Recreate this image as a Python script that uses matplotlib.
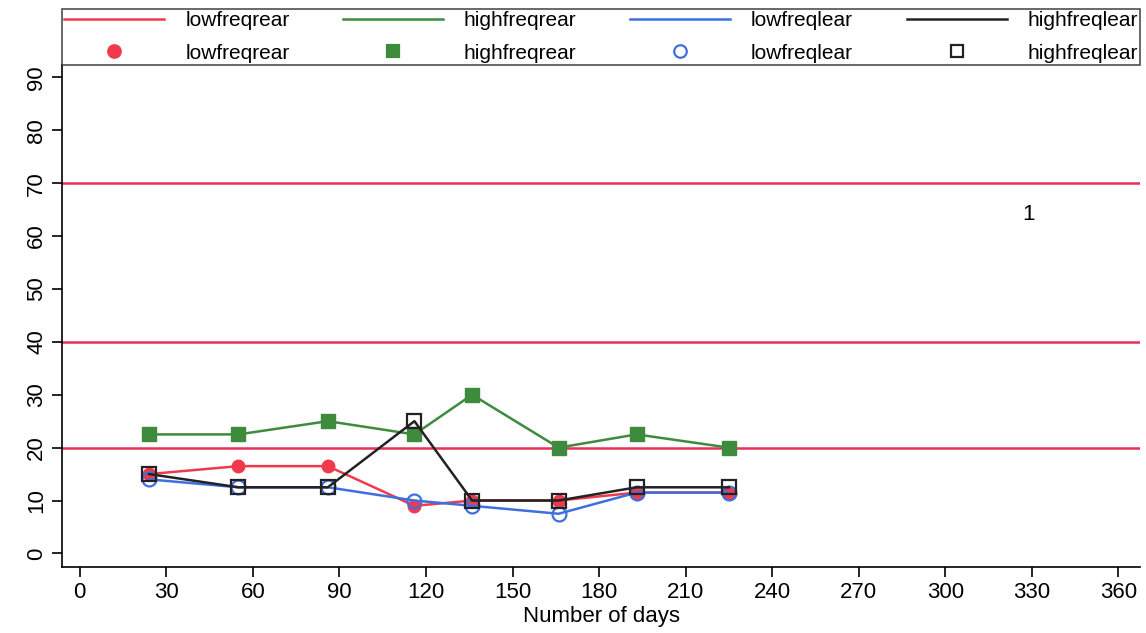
import matplotlib
matplotlib.use("Agg")
import matplotlib.pyplot as plt
from matplotlib.lines import Line2D

plt.rcParams['font.family'] = ['Liberation Sans', 'DejaVu Sans']

days = [24, 55, 86, 116, 136, 166, 193, 225]
lowfreqrear = [15, 16.5, 16.5, 9, 10, 10, 11.5, 11.5]
highfreqrear = [22.5, 22.5, 25, 22.5, 30, 20, 22.5, 20]
lowfreqlear = [14, 12.5, 12.5, 10, 9, 7.5, 11.5, 11.5]
highfreqlear = [15, 12.5, 12.5, 25, 10, 10, 12.5, 12.5]
reflines = [20, 40, 70]
xticks = list(range(0, 361, 30))
yticks = list(range(0, 91, 10))

c_red = '#f03a4c'
c_green = '#3e8b3e'
c_blue = '#3f6fdf'
c_black = '#222222'

fig = plt.figure(figsize=(11.46, 6.33), dpi=100)
ax = fig.add_axes([0.054, 0.104, 0.941, 0.793])

for r in reflines:
    ax.axhline(r, color='#e8305a', linewidth=1.8, zorder=1)

ax.plot(days, lowfreqrear, color=c_red, lw=1.8, marker='o', ms=9,
        mfc=c_red, mec=c_red, zorder=3)
ax.plot(days, highfreqrear, color=c_green, lw=1.8, marker='s', ms=10,
        mfc=c_green, mec=c_green, zorder=3)
ax.plot(days, lowfreqlear, color=c_blue, lw=1.8, marker='o', ms=10,
        mfc='none', mec=c_blue, mew=1.6, zorder=4)
ax.plot(days, highfreqlear, color=c_black, lw=1.8, marker='s', ms=10,
        mfc='none', mec=c_black, mew=1.6, zorder=5)

ax.text(329, 64, '1', fontsize=16, ha='center', va='center')

ax.set_xlim(-6.2, 367.6)
ax.set_ylim(-2.6, 92.3)
ax.set_xticks(xticks)
ax.set_yticks(yticks)
ax.tick_params(axis='both', labelsize=16, direction='out', length=7, width=1.2)
for lab in ax.get_yticklabels():
    lab.set_rotation(90)
    lab.set_va('center')
ax.set_xlabel('Number of days', fontsize=16, labelpad=2)
ax.spines['right'].set_visible(False)
ax.spines['top'].set_visible(False)
ax.spines['left'].set_linewidth(1.2)
ax.spines['bottom'].set_linewidth(1.2)

handles = []
labels = []
names = ['lowfreqrear', 'highfreqrear', 'lowfreqlear', 'highfreqlear']
styles = [(c_red, 'o', c_red), (c_green, 's', c_green),
          (c_blue, 'o', 'none'), (c_black, 's', 'none')]
for n, (c, m, fc) in zip(names, styles):
    handles.append(Line2D([], [], color=c, lw=1.8))
    labels.append(n)
    handles.append(Line2D([], [], ls='none', marker=m, ms=9, mfc=fc,
                          mec=c, mew=1.6))
    labels.append(n)

leg = ax.legend(handles, labels, loc='lower left',
                bbox_to_anchor=(0, 1.0, 1, 0.115), mode='expand', ncol=4,
                borderaxespad=0, fontsize=15, handlelength=4.8,
                handletextpad=1.0, frameon=True, fancybox=False,
                edgecolor='#222222', labelspacing=0.65, borderpad=0.12)
leg.get_frame().set_linewidth(1.2)

fig.savefig('out.png', dpi=100)
